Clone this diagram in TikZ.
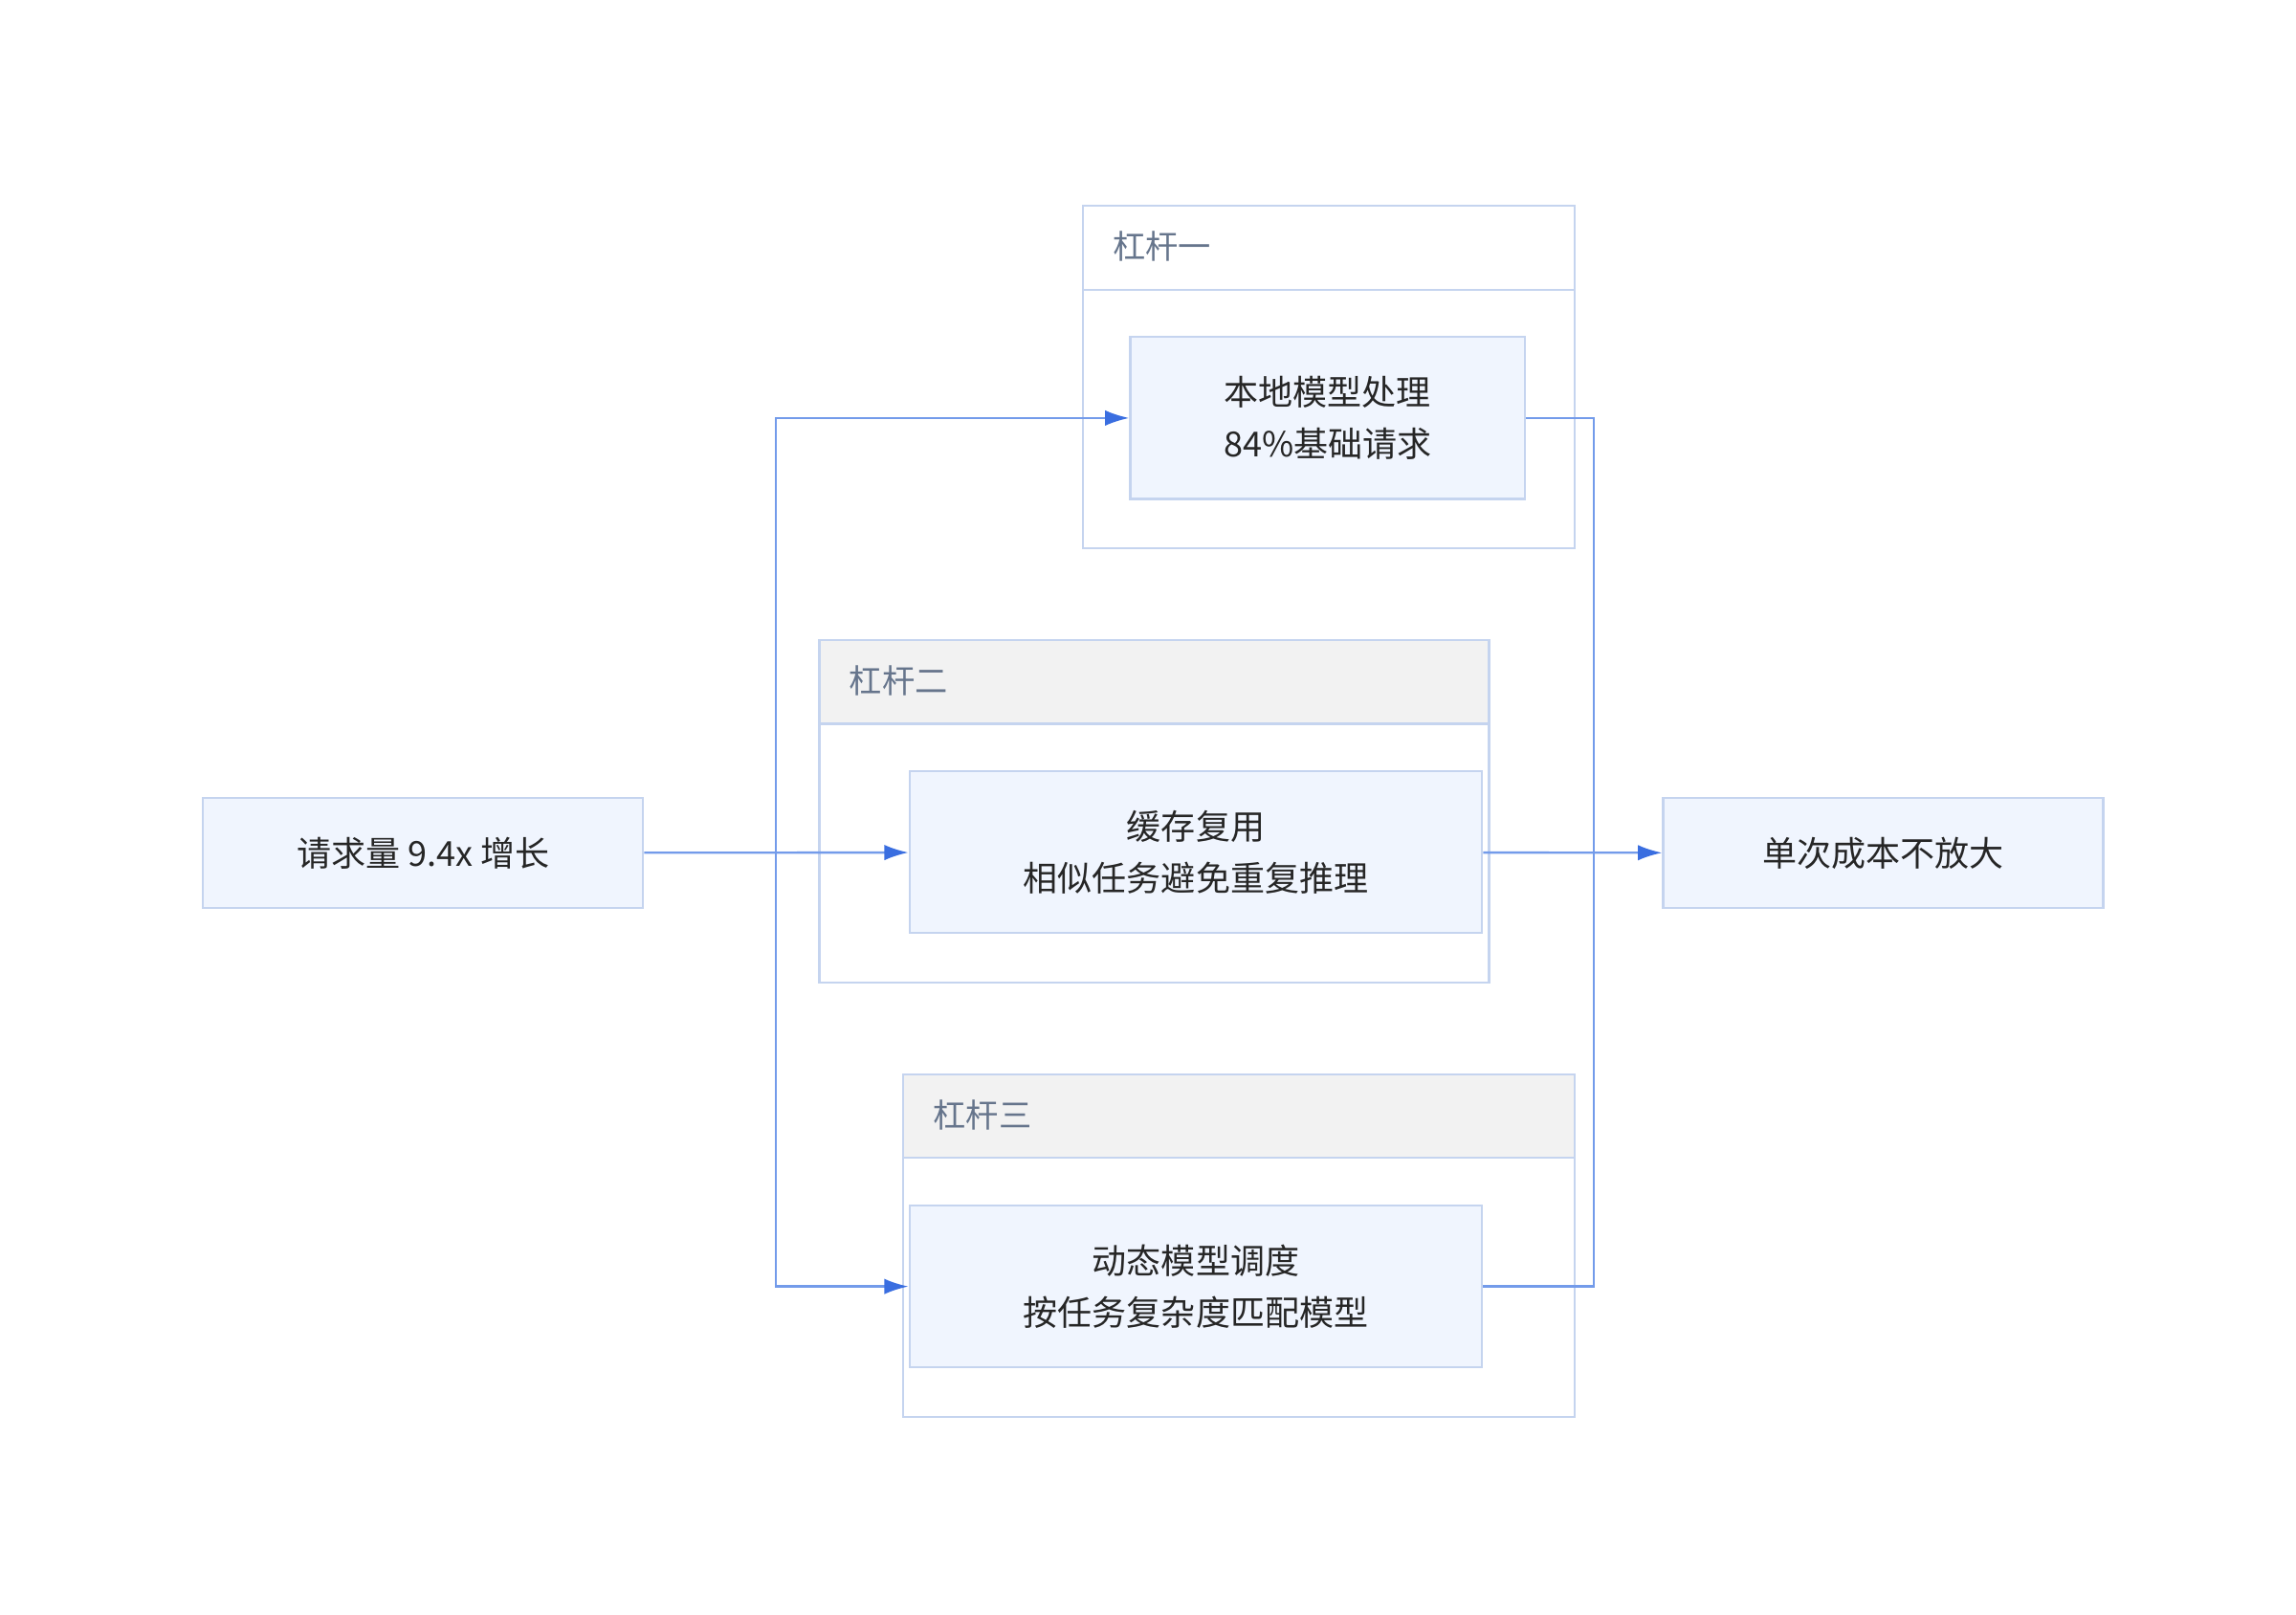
\documentclass[tikz,border=0pt]{standalone}
\usepackage{fontspec}
\setmainfont{Noto Sans CJK SC}
\usetikzlibrary{arrows.meta, positioning}
\definecolor{boxfill}{HTML}{F0F5FE}
\definecolor{boxline}{HTML}{C5D4EF}
\definecolor{headfill}{HTML}{F2F2F2}
\definecolor{headtext}{HTML}{66758C}
\definecolor{linkblue}{HTML}{739BEA}
\definecolor{tipblue}{HTML}{3A6EE0}
\tikzset{
  box/.style={draw=boxline, fill=boxfill, line width=1.2pt, align=center,
    font=\fontsize{20}{30}\selectfont, text=black!85},
  group/.style={draw=boxline, line width=1.2pt, anchor=north west},
  head/.style={draw=boxline, fill=headfill, line width=1.2pt, anchor=north west,
    font=\fontsize{19}{24}\selectfont, text=headtext, text width=0pt, inner sep=0pt},
  link/.style={draw=linkblue, line width=1.3pt, -{Latex[length=14pt,width=9pt,color=tipblue]}},
  plain/.style={draw=linkblue, line width=1.3pt}
}
\begin{document}
\begin{tikzpicture}[x=0.03cm, y=-0.03cm]
  \useasboundingbox (0,0) rectangle (1560,1097);
  % 分组
  \node[group, minimum width=334*0.03cm, minimum height=233*0.03cm] (g1) at (735,139) {};
  \node[group, minimum width=334*0.03cm, minimum height=57*0.03cm] (h1) at (735,139) {};
  \node[anchor=west, font=\fontsize{19}{24}\selectfont, text=headtext] (t1) at (752,167.5) {杠杆一};
  \node[group, minimum width=455*0.03cm, minimum height=233*0.03cm] (g2) at (556,434) {};
  \node[group, fill=headfill, draw=boxline, minimum width=455*0.03cm, minimum height=57*0.03cm] (h2) at (556,434) {};
  \node[anchor=west, font=\fontsize{19}{24}\selectfont, text=headtext] (t2) at (573,462.5) {杠杆二};
  \node[group, minimum width=456*0.03cm, minimum height=233*0.03cm] (g3) at (613,729) {};
  \node[group, fill=headfill, draw=boxline, minimum width=456*0.03cm, minimum height=57*0.03cm] (h3) at (613,729) {};
  \node[anchor=west, font=\fontsize{19}{24}\selectfont, text=headtext] (t3) at (630,757.5) {杠杆三};
  % 节点
  \node[box, minimum width=299*0.03cm, minimum height=75*0.03cm] (load) at (287.5,579.5) {请求量 9.4x 增长};
  \node[box, minimum width=299*0.03cm, minimum height=75*0.03cm] (cost) at (1279.5,579.5) {单次成本不放大};
  \node[box, minimum width=268*0.03cm, minimum height=110*0.03cm] (local) at (902,284) {本地模型处理\\84\%基础请求};
  \node[box, minimum width=389*0.03cm, minimum height=110*0.03cm] (cache) at (812.5,579) {缓存复用\\相似任务避免重复推理};
  \node[box, minimum width=389*0.03cm, minimum height=110*0.03cm] (route) at (812.5,874) {动态模型调度\\按任务复杂度匹配模型};
  % 连线
  \coordinate (split) at (527,579.5);
  \coordinate (join) at (1083,579.5);
  \draw[link] (load) -- (cache);
  \draw[link] (split) |- (local);
  \draw[link] (split) |- (route);
  \draw[plain] (local) -| (join);
  \draw[plain] (route) -| (join);
  \draw[link] (cache) -- (cost);
\end{tikzpicture}
\end{document}
